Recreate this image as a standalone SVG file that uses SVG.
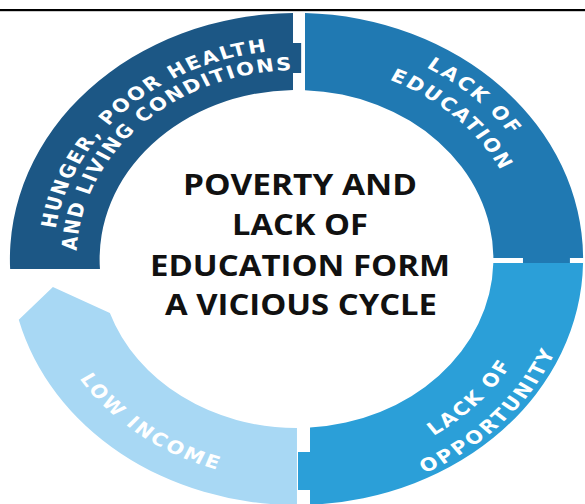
<svg xmlns="http://www.w3.org/2000/svg" width="585" height="504" viewBox="0 0 585 504">
<style>
.ring{font-family:"DejaVu Sans","Open Sans",sans-serif;font-weight:700;font-size:18px;fill:#ffffff}
.title{font-family:"Open Sans","Liberation Sans",sans-serif;font-weight:700;font-size:28px;fill:#111111;text-anchor:middle}
</style>
<defs>
<path id="p-hunger1" d="M -190.3,86.3 A 209 209 0 0 1 90.3,-188.5"/>
<path id="p-hunger2" d="M -172.1,78.1 A 189 189 0 0 1 81.7,-170.4"/>
<path id="p-edu1" d="M -100.6,-197.4 A 221.5 221.5 0 0 1 203.9,86.5"/>
<path id="p-edu2" d="M -87.7,-175.8 A 196.5 196.5 0 0 1 180.2,78.3"/>
<path id="p-opp1" d="M -83.7,195.3 A 212.5 212.5 0 0 0 189.7,-95.8"/>
<path id="p-opp2" d="M -93.8,222.0 A 241 241 0 0 0 214.5,-109.8"/>
<path id="p-low" d="M -211,-67.3 A 221.5 221.5 0 0 0 118.4,187.2"/>
</defs>
<rect x="0" y="9" width="585" height="2.2" fill="#000"/>
<g transform="translate(296.5,259) scale(1.165,1)">
<g id="hunger">
<path fill="#1c5785" d="M -3,-246 A 246 246 0 0 0 -245.8,10 L -168.7,10 A 169 169 0 0 1 -3,-169 L -3,-186 L 4,-186 L 4,-216 L -3,-216 Z"/>
<text class="ring"><textPath href="#p-hunger1" startOffset="50%" text-anchor="middle" textLength="272" lengthAdjust="spacing">HUNGER, POOR HEALTH</textPath><textPath href="#p-hunger2" startOffset="50%" text-anchor="middle" textLength="284" lengthAdjust="spacing">AND LIVING CONDITIONS</textPath></text>
</g>
<g id="education">
<path fill="#2079b2" d="M 7.3,-245.9 A 246 246 0 0 1 246,-1 L 234.7,-1 L 234.7,4 L 194.4,4 L 194.4,-1 L 169,-1 A 169 169 0 0 0 7.3,-168.84 Z"/>
<text class="ring"><textPath href="#p-edu1" startOffset="50%" text-anchor="middle" textLength="100" lengthAdjust="spacing">LACK OF</textPath><textPath href="#p-edu2" startOffset="50%" text-anchor="middle" textLength="134" lengthAdjust="spacing">EDUCATION</textPath></text>
</g>
<g id="opportunity">
<path fill="#2b9fd8" d="M 245.97,4 A 246 246 0 0 1 11.6,245.73 L 11.6,231 L 1.3,231 L 1.3,193 L 11.6,193 L 11.6,168.6 A 169 169 0 0 0 168.95,4 Z"/>
<text class="ring"><textPath href="#p-opp1" startOffset="50%" text-anchor="middle" textLength="98" lengthAdjust="spacing">LACK OF</textPath><textPath href="#p-opp2" startOffset="50%" text-anchor="middle" textLength="168" lengthAdjust="spacing">OPPORTUNITY</textPath></text>
</g>
<g id="low-income">
<path fill="#a8d8f4" d="M 0.4,246 A 246 246 0 0 1 -238.4,60.8 L -209.1,27.9 L -160.2,53.9 A 169 169 0 0 0 0.4,169 Z"/>
<text class="ring"><textPath href="#p-low" startOffset="50%" text-anchor="middle" textLength="152" lengthAdjust="spacing">LOW INCOME</textPath></text>
</g>
</g>
<g id="center-text">
<text class="title" x="300" y="195" textLength="234" lengthAdjust="spacingAndGlyphs">POVERTY AND</text>
<text class="title" x="300" y="235" textLength="136" lengthAdjust="spacingAndGlyphs">LACK OF</text>
<text class="title" x="300" y="276" textLength="300" lengthAdjust="spacingAndGlyphs">EDUCATION FORM</text>
<text class="title" x="301" y="315" textLength="272" lengthAdjust="spacingAndGlyphs">A VICIOUS CYCLE</text>
</g>
</svg>
